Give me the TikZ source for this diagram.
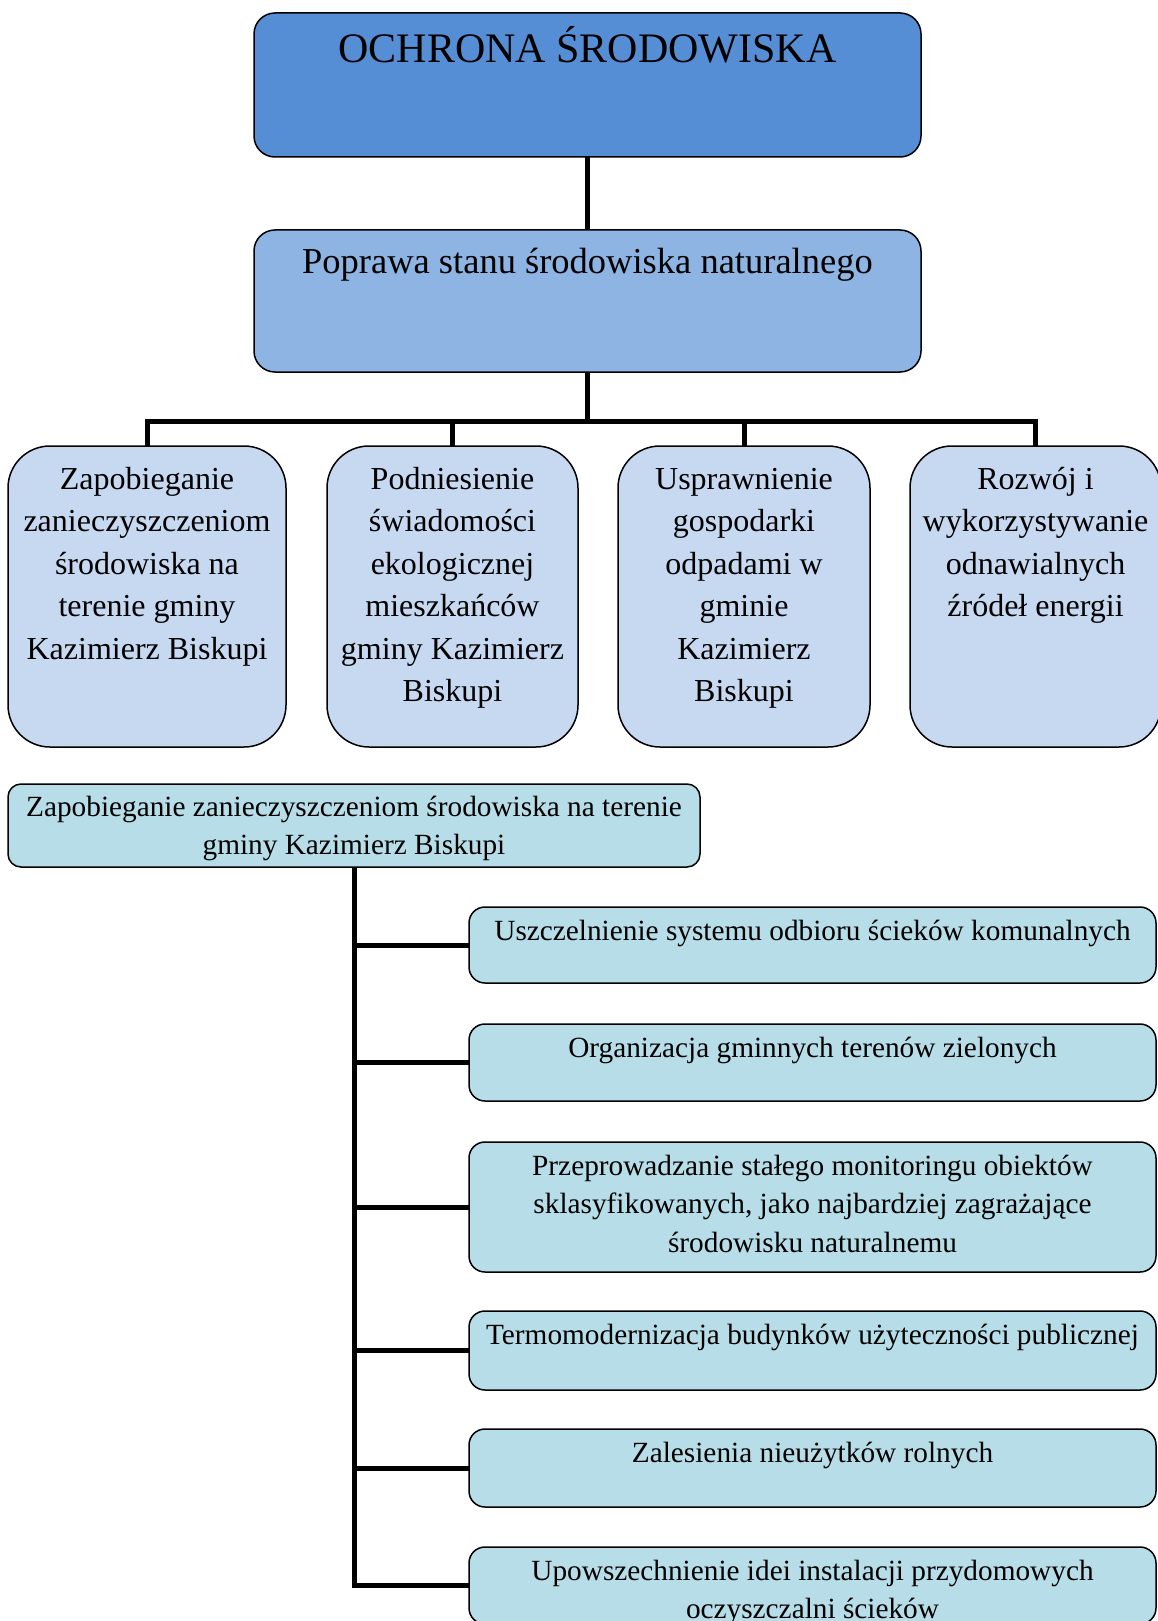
\documentclass[tikz,border=0pt]{standalone}
\usepackage{fontspec}
\setmainfont{Liberation Serif}
\definecolor{cTop}{HTML}{558ED5}
\definecolor{cSec}{HTML}{8EB4E3}
\definecolor{cGoal}{HTML}{C6D9F1}
\definecolor{cTeal}{HTML}{B7DEE8}
\newcommand\boxtext[4]{\parbox[b][#2pt][t]{#1pt}{\centering\rule{0pt}{#3pt}#4\par}}
\tikzset{
  stbox/.style={draw=black, line width=1.5pt, anchor=north west, inner sep=0pt, outer sep=0pt},
  conn/.style={line width=5pt, draw=black},
  fTitle/.style={font=\fontsize{42}{48}\selectfont},
  fSec/.style={font=\fontsize{36.5}{42}\selectfont},
  fGoal/.style={font=\fontsize{32}{42.5}\selectfont},
  fTask/.style={font=\fontsize{29.3}{38.5}\selectfont},
  goalbox/.style={stbox, fill=cGoal, rounded corners=42pt, fGoal},
  taskbox/.style={stbox, fill=cTeal, rounded corners=16pt, fTask},
}
\begin{document}
\begin{tikzpicture}[x=1pt,y=-1pt]
\path[use as bounding box, fill=white] (0,0) rectangle (1157,1621);

\node[stbox, fill=cTop, rounded corners=21pt, fTitle] (top) at (254,13)
  {\boxtext{667}{144}{50}{OCHRONA ŚRODOWISKA}};
\node[stbox, fill=cSec, rounded corners=21pt, fSec] (pop) at (254,230)
  {\boxtext{667}{142}{43}{Poprawa stanu środowiska naturalnego}};

\node[goalbox] (b1) at (8,446)
  {\boxtext{278}{301}{43}{Zapobieganie\\zanieczyszczeniom\\środowiska na\\terenie gminy\\Kazimierz Biskupi}};
\node[goalbox] (b2) at (327,446)
  {\boxtext{251}{301}{43}{Podniesienie\\świadomości\\ekologicznej\\mieszkańców\\gminy Kazimierz\\Biskupi}};
\node[goalbox] (b3) at (618,446)
  {\boxtext{252}{301}{43}{Usprawnienie\\gospodarki\\odpadami w\\gminie\\Kazimierz\\Biskupi}};
\node[goalbox] (b4) at (910,446)
  {\boxtext{251}{301}{43}{Rozwój i\\wykorzystywanie\\odnawialnych\\źródeł energii}};

\coordinate (bus) at (587.5,421);
\draw[conn] (top) -- (pop);
\draw[conn] (pop.south) -- (bus);
\draw[conn] (b1.north) |- (bus) -| (b4.north);
\draw[conn] (b2.north) -- (b2.north |- bus);
\draw[conn] (b3.north) -- (b3.north |- bus);

\node[taskbox, rounded corners=13pt] (hd) at (8,784)
  {\boxtext{692}{83}{32}{Zapobieganie zanieczyszczeniom środowiska na terenie\\gminy Kazimierz Biskupi}};

\node[taskbox] (rA) at (469,907)
  {\boxtext{687}{76}{33}{Uszczelnienie systemu odbioru ścieków komunalnych}};
\node[taskbox] (rB) at (469,1024)
  {\boxtext{687}{77}{33}{Organizacja gminnych terenów zielonych}};
\node[taskbox] (rC) at (469,1142)
  {\boxtext{687}{130}{33}{Przeprowadzanie stałego monitoringu obiektów\\sklasyfikowanych, jako najbardziej zagrażające\\środowisku naturalnemu}};
\node[taskbox] (rD) at (469,1311)
  {\boxtext{687}{79}{33}{Termomodernizacja budynków użyteczności publicznej}};
\node[taskbox] (rE) at (469,1429)
  {\boxtext{687}{78}{33}{Zalesienia nieużytków rolnych}};
\node[taskbox] (rF) at (469,1547)
  {\boxtext{687}{77}{33}{Upowszechnienie idei instalacji przydomowych\\oczyszczalni ścieków}};

\draw[conn] (hd.south) |- (rF.west);
\foreach \r in {rA,rB,rC,rD,rE}
  \draw[conn] (hd.south |- \r.west) -- (\r.west);
\end{tikzpicture}
\end{document}
